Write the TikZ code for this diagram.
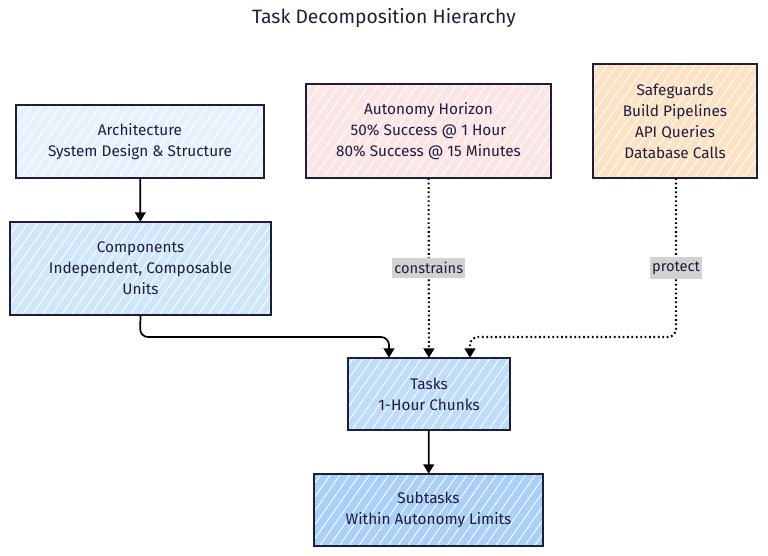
\documentclass[tikz,border=0pt]{standalone}
\usepackage{fontspec}
\setmainfont{Fira Sans}
\usepackage{tikz}
\usetikzlibrary{arrows.meta}
\usetikzlibrary{patterns.meta}
\usetikzlibrary{positioning}

\definecolor{inkc}{HTML}{1E1E3C}
\definecolor{archc}{HTML}{E6F1FD}
\definecolor{compc}{HTML}{D0E6FD}
\definecolor{autoc}{HTML}{FDE5E6}
\definecolor{safec}{HTML}{FDE2C4}
\definecolor{taskc}{HTML}{BEDCFB}
\definecolor{subc}{HTML}{A8D0FA}
\definecolor{tagc}{HTML}{D2D2D2}

\tikzset{
	box/.style={align=center, text=inkc,
		font=\fontsize{11.5}{15.75}\selectfont,
		postaction={pattern={Lines[angle=55, distance=6pt, line width=0.7pt]}, pattern color=white,
			draw=inkc, line width=1.2pt}},
	link/.style={line width=1.3pt, -{Triangle[width=8pt,length=7pt]}, rounded corners=6pt},
	soft/.style={link, dotted, line width=1.6pt},
	tag/.style={fill=tagc, text=inkc, sharp corners, inner xsep=1.5pt, inner ysep=3.5pt, font=\fontsize{11}{12}\selectfont}
}

\begin{document}
\begin{tikzpicture}[x=0.75pt, y=-0.75pt]
		\useasboundingbox (0,0) rectangle (768,556);
		\node[text=inkc, font=\fontsize{14.5}{16}\selectfont] (title) at (384,18) {Task Decomposition Hierarchy};

		\node[box, fill=archc, minimum width=186pt, minimum height=54.75pt] (arch) at (140,141.5) {Architecture\\System Design \& Structure};
		\node[box, fill=compc, minimum width=195.75pt, minimum height=69.75pt] (comp) at (140.5,268.5) {Components\\Independent, Composable\\Units};
		\node[box, fill=autoc, minimum width=183.75pt, minimum height=70.5pt] (horizon) at (428.5,131) {Autonomy Horizon\\50\% Success @ 1 Hour\\80\% Success @ 15 Minutes};
		\node[box, fill=safec, minimum width=123pt, minimum height=85.5pt] (guard) at (675,121) {Safeguards\\Build Pipelines\\API Queries\\Database Calls};
		\node[box, fill=taskc, minimum width=121.5pt, minimum height=54pt] (tasks) at (429,394) {Tasks\\1-Hour Chunks};
		\node[box, fill=subc, minimum width=171.75pt, minimum height=54pt] (sub) at (428.5,510) {Subtasks\\Within Autonomy Limits};

		\coordinate (cturn) at (140,337);
		\coordinate (gturn) at (676,337);

		\draw[link] (arch) -- (comp);
		\draw[link] (comp.south) -- (cturn) -| ([xshift=-30pt]tasks.north);
		\draw[soft] (horizon) -- node[tag, pos=0.5] {constrains} (tasks);
		\draw[soft] (guard.south -| gturn) -- node[tag, pos=0.564] {protect} (gturn) -| ([xshift=30.75pt]tasks.north);
		\draw[link] (tasks) -- (sub);
	\end{tikzpicture}
\end{document}
